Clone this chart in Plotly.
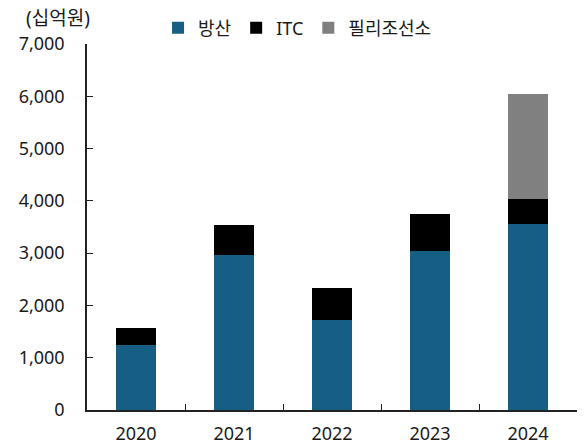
import plotly.graph_objects as go

years = ["2020", "2021", "2022", "2023", "2024"]
defense = [1250, 2960, 1720, 3050, 3555]
itc = [320, 580, 620, 700, 475]
philly = [0, 0, 0, 0, 2020]
series_names = ["방산", "ITC", "필리조선소"]
colors = ["#165E83", "#000000", "#808080"]
y_ticks = [0, 1000, 2000, 3000, 4000, 5000, 6000, 7000]

FONT = "Noto Sans, Noto Sans CJK KR"
TXT = "#1a1a1a"

fig = go.Figure()
for name, vals, col in zip(series_names, [defense, itc, philly], colors):
    fig.add_trace(go.Bar(
        x=years, y=vals, name=name,
        marker=dict(color=col, line=dict(width=0)),
        width=0.41,
    ))

fig.update_layout(
    barmode="stack",
    width=584, height=446,
    margin=dict(l=87, r=7, t=44, b=36, autoexpand=False),
    plot_bgcolor="white", paper_bgcolor="white",
    font=dict(family=FONT, size=18, color=TXT),
    showlegend=True,
    legend=dict(
        orientation="h", x=0.145, xanchor="left",
        yref="container", y=0.937, yanchor="middle",
        font=dict(family=FONT, size=18, color=TXT),
        itemwidth=30, tracegroupgap=0, traceorder="normal",
        bgcolor="rgba(0,0,0,0)",
    ),
    xaxis=dict(
        showline=True, linecolor="#222222", linewidth=1.5,
        ticks="inside", tickson="boundaries", ticklen=6, tickcolor="#222222",
        tickfont=dict(family=FONT, size=18, color=TXT),
        ticklabelstandoff=7,
        showgrid=False, automargin=False,
    ),
    yaxis=dict(
        range=[0, 7000], tickvals=y_ticks,
        tickformat=",d",
        showline=True, linecolor="#222222", linewidth=1.5,
        ticks="inside", ticklen=6, tickcolor="#222222",
        tickfont=dict(family=FONT, size=18, color=TXT),
        ticklabelstandoff=17,
        showgrid=False, zeroline=False, automargin=False,
    ),
    annotations=[dict(
        text="(십억원)", x=-0.06, xref="paper", xanchor="center",
        y=1, yref="paper", yanchor="middle", yshift=26,
        showarrow=False,
        font=dict(family=FONT, size=19, color=TXT),
    )],
)

fig.write_html(
    "out.html",
    config={"displayModeBar": False},
    post_script="document.body.style.margin='0';document.body.style.padding='0';",
)
